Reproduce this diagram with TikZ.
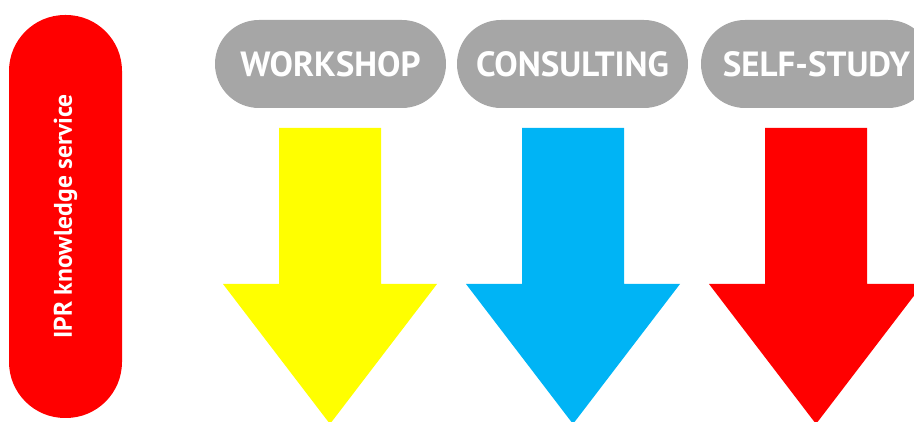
\documentclass[tikz,border=0pt]{standalone}
\usepackage{fontspec}
\setmainfont{PT Sans}
\definecolor{pillgray}{HTML}{A6A6A6}
\definecolor{arrblue}{HTML}{00B4F5}
\definecolor{arrred}{HTML}{FF0000}
\definecolor{arryellow}{HTML}{FFFF00}
\begin{document}
\begin{tikzpicture}[x=1pt,y=1pt,
  pill/.style={fill=pillgray,draw=none,minimum width=231pt,minimum height=88pt,rounded corners=44pt,
     text=white,font=\bfseries\fontsize{35}{40}\selectfont,inner sep=0pt},
  bigarrow/.style={draw=none}]
\useasboundingbox (0,0) rectangle (914,422);
\clip (0,0) rectangle (914,422);
% left red pill
\node[fill=arrred,minimum width=403pt,minimum height=113pt,rounded corners=56pt,inner sep=0pt,
  text=white,font=\bfseries\fontsize{25.5}{28}\selectfont,rotate=90] (ipr) at (65.5,205.5) {IPR knowledge service};
% gray pills
\node[pill] (ws) at (330.5,358) {WORKSHOP};
\node[pill] (cs) at (572.5,358) {CONSULTING};
\node[pill] (ss) at (816.5,358) {SELF-STUDY};
% arrows
\newcommand{\downarrowat}[2]{%
  \fill[#2] (#1-51,294) -- (#1+51,294) -- (#1+51,138) -- (#1+107,138) -- (#1,-2) -- (#1-107,138) -- (#1-51,138) -- cycle;}
\downarrowat{330}{arryellow}
\downarrowat{573}{arrblue}
\downarrowat{816}{arrred}
\end{tikzpicture}
\end{document}
